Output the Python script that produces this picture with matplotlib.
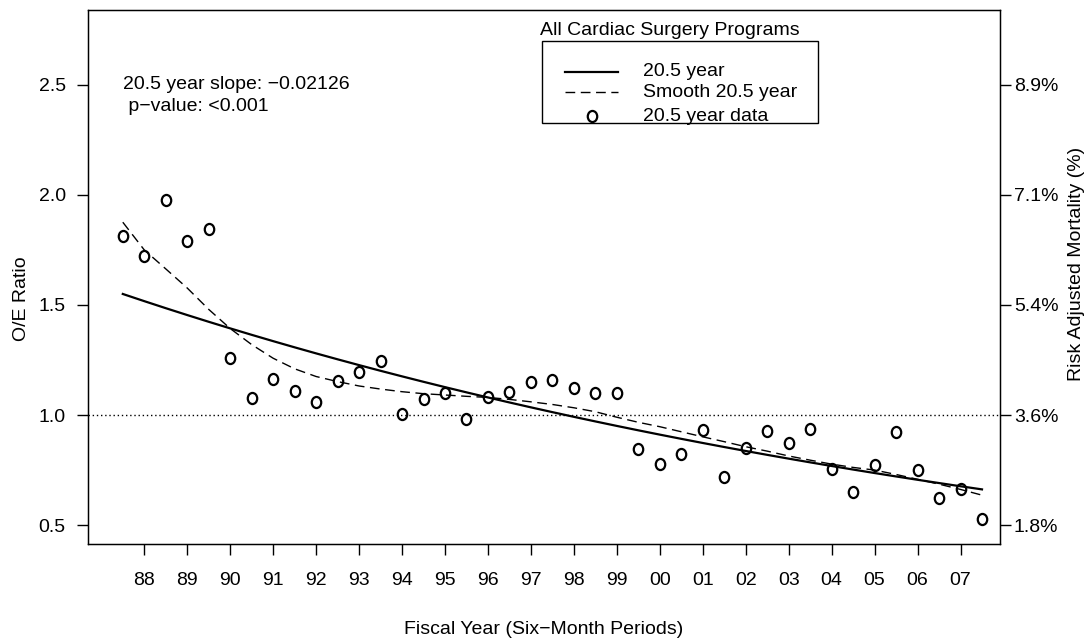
import numpy as np
import matplotlib
matplotlib.use("Agg")
import matplotlib.pyplot as plt
from matplotlib.markers import MarkerStyle
from matplotlib.transforms import Affine2D
from matplotlib.lines import Line2D
from matplotlib.patches import Rectangle

plt.rcParams["font.family"] = ["Liberation Sans", "DejaVu Sans"]
plt.rcParams["font.size"] = 14

# six-month periods: 87.5 = first half of FY88 ... 107.5 = second half of FY07
period = np.arange(87.5, 107.75, 0.5)

oe_ratio = [1.814, 1.723, 1.977, 1.791, 1.844, 1.258, 1.079, 1.162, 1.109, 1.060,
            1.153, 1.197, 1.247, 1.006, 1.071, 1.099, 0.980, 1.083, 1.105, 1.152,
            1.159, 1.124, 1.099, 1.100, 0.844, 0.777, 0.821, 0.930, 0.718, 0.849,
            0.927, 0.874, 0.935, 0.753, 0.651, 0.771, 0.921, 0.749, 0.624, 0.665,
            0.526]

smooth_oe = [1.876, 1.750, 1.664, 1.577, 1.480, 1.393, 1.320, 1.258, 1.210, 1.175,
             1.152, 1.132, 1.118, 1.106, 1.097, 1.091, 1.085, 1.080, 1.071, 1.060,
             1.048, 1.033, 1.015, 0.990, 0.967, 0.947, 0.924, 0.901, 0.879, 0.856,
             0.836, 0.814, 0.795, 0.777, 0.762, 0.750, 0.730, 0.708, 0.686, 0.662,
             0.636]

# log-linear trend per six-month period
trend_start = 1.55
trend_slope = -0.02126
p_value = "<0.001"

year_ticks = np.arange(88, 108)
year_labels = ["%02d" % (y % 100) for y in year_ticks]
oe_ticks = [0.5, 1.0, 1.5, 2.0, 2.5]
mortality_labels = ["1.8%", "3.6%", "5.4%", "7.1%", "8.9%"]

trend = trend_start * np.exp(trend_slope * np.arange(len(period)))

fig = plt.figure(figsize=(10.85, 6.38), dpi=100)
ax = fig.add_axes([0.0811, 0.1473, 0.8406, 0.8370])

ax.axhline(1.0, color="black", lw=1.0, ls=(0, (1, 2)), zorder=1)
ax.plot(period, trend, color="black", lw=1.6, zorder=2)
ax.plot(period, smooth_oe, color="black", lw=1.0, dashes=(7, 4), zorder=2)
circ = MarkerStyle("o", fillstyle="none", transform=Affine2D().scale(0.85, 1.0))
ax.plot(period, oe_ratio, ls="none", marker=circ, ms=8, mew=1.6,
        mec="black", zorder=3)

ax.set_xlim(86.69, 107.92)
ax.set_ylim(0.414, 2.84)
ax.set_xticks(year_ticks)
ax.set_xticklabels(year_labels)
ax.set_yticks(oe_ticks)
ax.set_yticklabels(["%.1f" % v for v in oe_ticks])
ax.tick_params(axis="x", direction="out", length=8, width=1.0, pad=12, labelsize=14)
ax.tick_params(axis="y", direction="out", length=8, width=1.0, pad=8, labelsize=14)
for s in ax.spines.values():
    s.set_linewidth(1.0)

ax.set_xlabel("Fiscal Year (Six\u2212Month Periods)", labelpad=23, fontsize=14)
ax.set_ylabel("O/E Ratio", fontsize=14)
ax.yaxis.set_label_coords(-0.064, 0.46)

ax2 = ax.twinx()
ax2.set_ylim(ax.get_ylim())
ax2.set_yticks(oe_ticks)
ax2.set_yticklabels(mortality_labels)
ax2.tick_params(axis="y", direction="out", length=8, width=1.0, pad=2, labelsize=14)
ax2.set_ylabel("Risk Adjusted Mortality (%)", fontsize=14)
ax2.yaxis.set_label_coords(1.0745, 0.524)

ax.text(87.5, 2.5, "20.5 year slope: \u2212%.5f" % abs(trend_slope),
        va="center", ha="left", fontsize=14)
ax.text(87.5, 2.4, " p\u2212value: %s" % p_value, va="center", ha="left", fontsize=14)

# legend box with its title sitting above the frame
T = ax.transAxes
ax.text(0.4956, 0.9625, "All Cardiac Surgery Programs", transform=T,
        ha="left", va="center", fontsize=14)
ax.add_patch(Rectangle((0.4978, 0.7884), 0.8004 - 0.4978, 0.9426 - 0.7884,
                       transform=T, fill=False, ec="black", lw=1.0, zorder=4))
rows = [0.8840, 0.8460, 0.8010]
ax.add_line(Line2D([0.5230, 0.5811], [rows[0]] * 2, transform=T, color="black", lw=1.6))
ax.add_line(Line2D([0.5230, 0.5811], [rows[1]] * 2, transform=T, color="black",
                   lw=1.0, dashes=(7, 4)))
ax.add_line(Line2D([0.5521], [rows[2]], transform=T, ls="none", marker=circ,
                   ms=8, mew=1.6, mec="black"))
for yy, lab in zip(rows, ["20.5 year", "Smooth 20.5 year", "20.5 year data"]):
    ax.text(0.6086, yy, lab, transform=T, ha="left", va="center", fontsize=14)

fig.savefig("out.png", dpi=100)
